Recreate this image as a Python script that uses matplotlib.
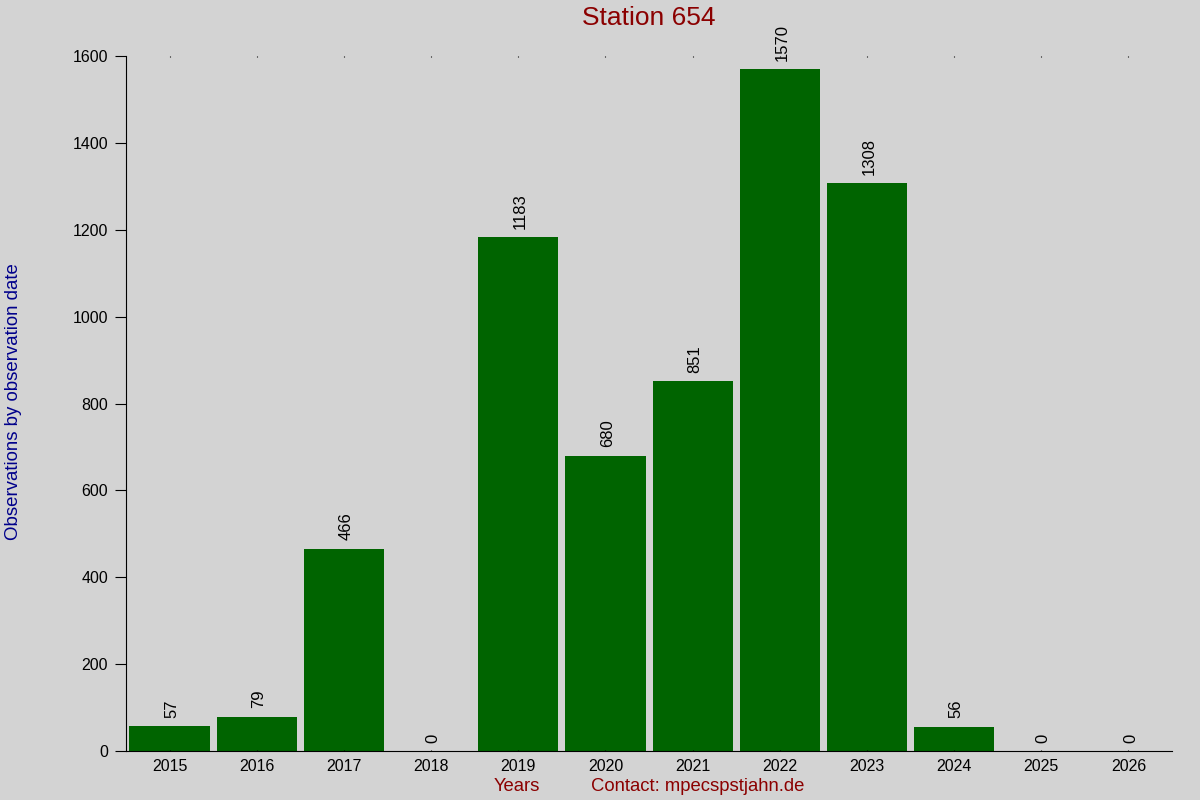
import matplotlib
matplotlib.use("Agg")
import matplotlib.pyplot as plt

plt.rcParams['font.family'] = ['Liberation Sans', 'DejaVu Sans']

# Data
years = ["2015", "2016", "2017", "2018", "2019", "2020",
         "2021", "2022", "2023", "2024", "2025", "2026"]
counts = [57, 79, 466, 0, 1183, 680, 851, 1570, 1308, 56, 0, 0]

bg = "#d3d3d3"
fig = plt.figure(figsize=(12, 8), dpi=100, facecolor=bg)
ax = fig.add_axes([0.105, 0.06125, 0.8717, 0.86875], facecolor=bg)

x = range(len(years))
bars = ax.bar(x, counts, width=0.92, color="#006400")

# value labels above bars
for b, v in zip(bars, counts):
    ax.annotate(str(v), (b.get_x() + b.get_width() / 2, v),
                xytext=(1.5, 6), textcoords="offset points",
                rotation=90, ha="center", va="bottom", fontsize=12)

ax.set_xlim(-0.5, len(years) - 0.5)
ax.set_ylim(0, 1600)
ax.set_yticks(range(0, 1601, 200))
ax.set_xticks(list(x))
ax.set_xticklabels(years)

for s in ["top", "right"]:
    ax.spines[s].set_visible(False)
ax.tick_params(axis="y", length=8, labelsize=11.5, pad=5)
ax.tick_params(axis="x", length=0, labelsize=11.5, pad=6)
ax.tick_params(axis="x", top=True, direction="in", length=1)

fig.text(0.541, 0.977, "Station 654", ha="center", va="center",
         fontsize=19, color="#8b0000")
fig.text(0.011, 0.498, "Observations by observation date", rotation=90,
         ha="center", va="center", fontsize=13.4, color="#00008b")
fig.text(0.431, 0.017, "Years", ha="center", va="center",
         fontsize=13.3, color="#8b0000")
fig.text(0.5815, 0.017, "Contact: mpecspstjahn.de", ha="center", va="center",
         fontsize=13.3, color="#8b0000")

fig.savefig("out.png", dpi=100, facecolor=bg)
